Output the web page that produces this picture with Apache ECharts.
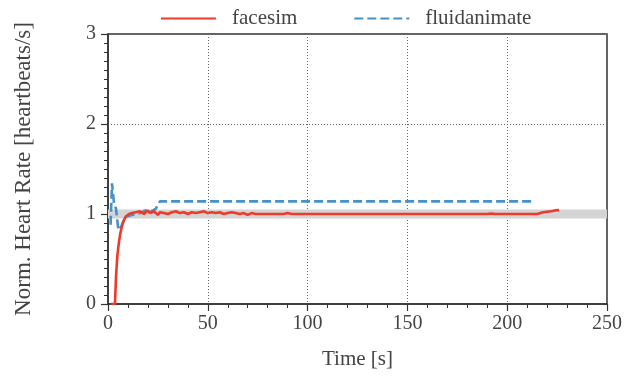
<!DOCTYPE html>
<html>
<head>
<meta charset="utf-8">
<script src="https://cdn.jsdelivr.net/npm/echarts@6/dist/echarts.min.js"></script>
<style>
  html, body { margin: 0; padding: 0; background: #fff; }
  #chart { width: 634px; height: 377px; }
</style>
</head>
<body>
<div id="chart"></div>
<script>
// Normalized heart rate over time for two PARSEC workloads
const seriesNames = ['facesim', 'fluidanimate'];

// facesim: [time s, normalized heart rate]
const facesimData = [
  [1.5, 0], [3.5, 0], [4, 0.3], [4.7, 0.54], [5.5, 0.69], [6.3, 0.8],
  [7.2, 0.88], [8, 0.93], [8.8, 0.97], [10.5, 1.0], [11, 0.98], [12, 1.01],
  [13, 0.99], [14, 1.02], [15, 1.0], [16, 1.03], [17, 1.01], [18, 1.0],
  [19, 1.02], [20, 1.04], [21, 1.01], [22, 1.0], [23, 1.03], [24, 1.01],
  [25, 0.99], [26, 1.02], [27, 1.03], [28, 1.01], [29, 1.02], [30, 1.0],
  [32, 1.02], [34, 1.03], [36, 1.01], [38, 1.02], [40, 1.0], [42, 1.02],
  [44, 1.01], [46, 1.02], [48, 1.03], [50, 1.01], [52, 1.02], [54, 1.01],
  [56, 1.02], [58, 1.0], [60, 1.01], [62, 1.02], [64, 1.01], [66, 1.0],
  [68, 1.01], [70, 0.99], [72, 1.01], [74, 1.0], [76, 1.0], [80, 1.0],
  [88, 1.0], [90, 1.01], [92, 1.0], [96, 1.0], [97, 1.01], [99, 1.0],
  [110, 1.0], [120, 1.0], [125, 1.0], [126, 1.01], [128, 1.0], [140, 1.0],
  [145, 1.0], [146, 1.01], [148, 1.0], [160, 1.0], [180, 1.0], [190, 1.0],
  [192, 1.005], [194, 1.0], [215, 1.0], [216, 1.01], [218, 1.02],
  [220, 1.025], [222, 1.03], [224, 1.04], [226, 1.045]
];

// fluidanimate: [time s, normalized heart rate]
const fluidanimateData = [
  [1.3, 0.88], [2, 1.34], [3, 1.12], [4, 1.06], [5, 0.86], [5.8, 0.82],
  [7, 0.88], [8, 0.94], [9, 0.97], [10, 0.98], [12, 0.99], [14, 1.0],
  [16, 1.01], [18, 1.03], [20, 1.05], [22, 1.03], [23, 1.02], [24, 1.06],
  [26, 1.14], [213, 1.14]
];

// Target band around the normalized goal
const bandLow = 0.95;
const bandHigh = 1.05;

const xTicks = { min: 0, max: 250, interval: 50 };
const yTicks = { min: 0, max: 3, interval: 1 };

const red = '#ee3a2b';
const blue = '#4592c9';
const axisColor = '#333333';
const textColor = '#444444';
const font = 'Liberation Serif';

const chart = echarts.init(document.getElementById('chart'));
chart.setOption({
  animation: false,
  backgroundColor: '#ffffff',
  textStyle: { fontFamily: font },
  legend: {
    left: 155,
    top: 3,
    itemWidth: 55,
    itemHeight: 14,
    itemGap: 56,
    itemStyle: { opacity: 0 },
    textStyle: { fontFamily: font, fontSize: 21, color: textColor, padding: [0, 0, 0, 11] },
    data: seriesNames
  },
  grid: {
    left: 108, right: 27, top: 34, bottom: 73,
    show: true, borderColor: axisColor, borderWidth: 1.5,
    backgroundColor: 'transparent'
  },
  xAxis: {
    type: 'value',
    min: xTicks.min, max: xTicks.max, interval: xTicks.interval,
    name: 'Time [s]',
    nameLocation: 'middle',
    nameGap: 45,
    nameTextStyle: { fontFamily: font, fontSize: 21, color: textColor },
    axisLine: { show: true, lineStyle: { color: axisColor, width: 1.5 } },
    axisTick: { show: true, length: 7, lineStyle: { color: axisColor, width: 1.2 } },
    minorTick: { show: true, splitNumber: 5, length: 4, lineStyle: { color: axisColor, width: 1 } },
    axisLabel: { fontFamily: font, fontSize: 20, color: textColor, margin: 10 },
    splitLine: { show: true, lineStyle: { color: '#666', type: [1, 2], width: 1 } }
  },
  yAxis: {
    type: 'value',
    min: yTicks.min, max: yTicks.max, interval: yTicks.interval,
    name: 'Norm. Heart Rate [heartbeats/s]',
    nameLocation: 'middle',
    nameGap: 73,
    nameTextStyle: { fontFamily: font, fontSize: 23, color: textColor },
    axisLine: { show: true, lineStyle: { color: axisColor, width: 1.5 } },
    axisTick: { show: true, length: 7, lineStyle: { color: axisColor, width: 1.2 } },
    minorTick: { show: true, splitNumber: 10, length: 4, lineStyle: { color: axisColor, width: 1 } },
    axisLabel: { fontFamily: font, fontSize: 20, color: textColor, margin: 12 },
    splitLine: { show: true, lineStyle: { color: '#666', type: [1, 2], width: 1 } }
  },
  series: [
    {
      name: 'band',
      type: 'line',
      data: [],
      z: 1,
      silent: true,
      markArea: {
        silent: true,
        itemStyle: { color: '#d4d4d4', opacity: 1 },
        data: [[{ yAxis: bandLow }, { yAxis: bandHigh }]]
      }
    },
    {
      name: seriesNames[0],
      type: 'line',
      data: facesimData,
      showSymbol: false,
      symbol: 'none',
      z: 3,
      lineStyle: { color: red, width: 2.6 },
      itemStyle: { color: red }
    },
    {
      name: seriesNames[1],
      type: 'line',
      data: fluidanimateData,
      showSymbol: false,
      symbol: 'none',
      z: 2,
      lineStyle: { color: blue, width: 2.6, type: [9, 4] },
      itemStyle: { color: blue }
    }
  ]
});
</script>
</body>
</html>
